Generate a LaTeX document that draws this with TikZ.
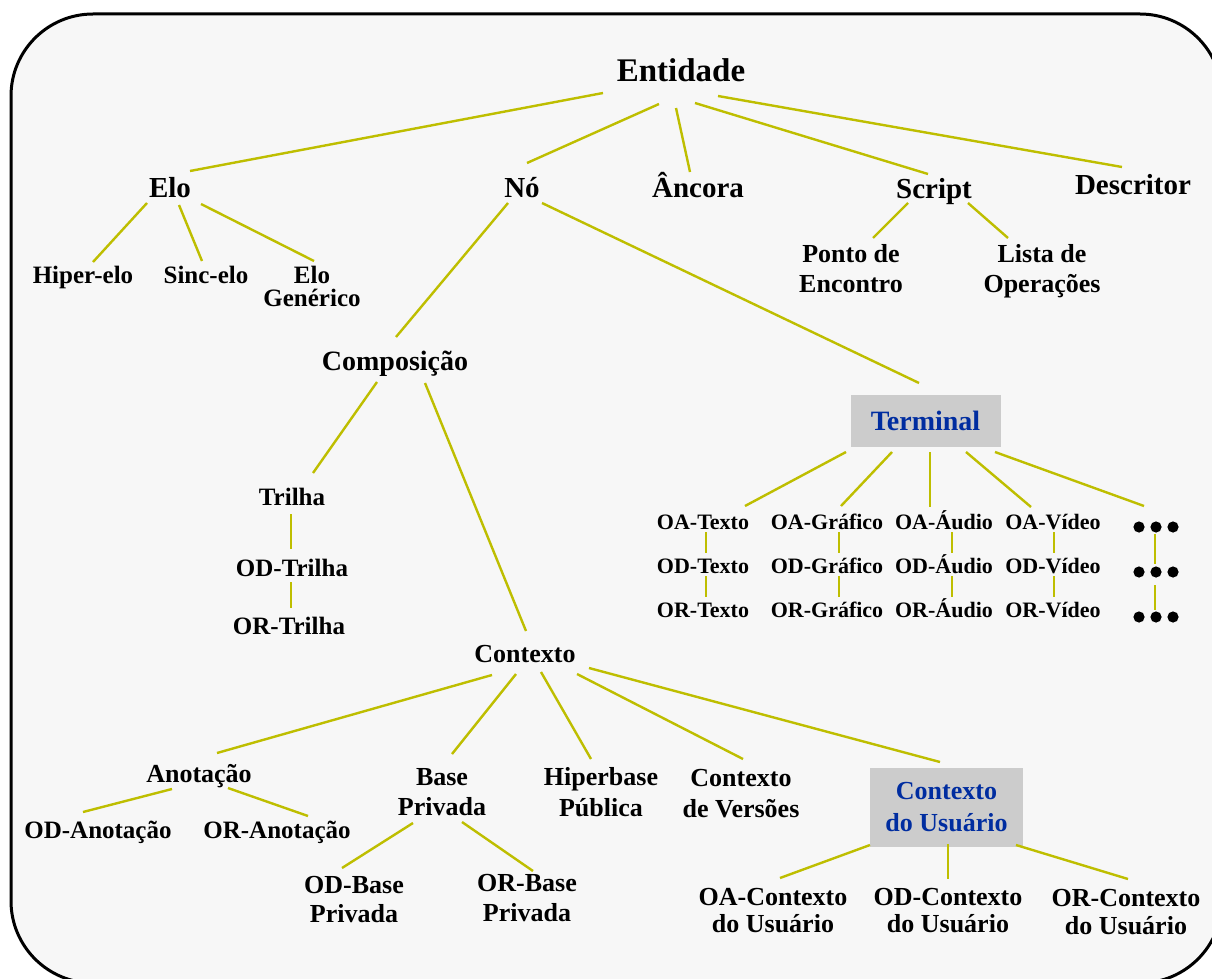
\documentclass[tikz,border=0pt]{standalone}
\usepackage{fontspec}
\setmainfont{Liberation Serif}
\definecolor{edgecol}{RGB}{190,190,0}
\definecolor{panelbg}{RGB}{247,247,247}
\definecolor{boxgray}{RGB}{204,204,204}
\definecolor{boxblue}{RGB}{0,45,160}
\tikzset{
  % text labels; the base anchor sits on the baseline of the last line
  t/.style 2 args={font=\bfseries\fontsize{#1}{#2}\selectfont, align=center, inner sep=0pt, anchor=base},
  hl/.style 2 args={font=\bfseries\fontsize{#1}{#2}\selectfont, align=center, inner sep=0pt,
     anchor=center, fill=boxgray, text=boxblue},
  ln/.style={draw=edgecol, line width=2.4pt},
  dotgroup/.style={inner sep=0pt, minimum width=46, minimum height=12}
}
\newcommand{\dotrow}[1]{%
  \foreach \dx in {-17,0,17} {\fill ([xshift=\dx]#1.center) circle (5.6);}}
\begin{document}
\begin{tikzpicture}[x=1pt,y=-1pt]
\useasboundingbox (0,0) rectangle (1212,979);
\clip (0,0) rectangle (1212,979);
\fill[white] (0,0) rectangle (1212,979);
% panel
\draw[line width=3pt, fill=panelbg, rounded corners=82] (11,14) rectangle (1222,983);

% top levels
\node[t={33}{36}] (ent) at (681,82) {Entidade};
\node[t={29}{32}] (elo) at (170,197) {Elo};
\node[t={29}{32}] (no) at (522,197) {Nó};
\node[t={29}{32}] (anc) at (698,197) {Âncora};
\node[t={29}{32}] (scr) at (934,198) {Script};
\node[t={29}{32}] (desc) at (1133,194) {Descritor};

% elo children
\node[t={25}{23}] (hip) at (83,283) {Hiper-elo};
\node[t={25}{23}] (sinc) at (206,283) {Sinc-elo};
\node[t={25}{23}] (elog) at (312,306) {Elo\\Genérico};

% script children
\node[t={26}{30}] (ponto) at (851,292) {Ponto de\\Encontro};
\node[t={26}{30}] (lista) at (1042,292) {Lista de\\Operações};

% node children
\node[t={28}{30}] (comp) at (395,370) {Composição};
\node[hl={28}{30}, minimum width=150, minimum height=52] (term) at (925.5,421) {Terminal};

% trilha chain
\node[t={25}{28}] (tril) at (292,505) {Trilha};
\node[t={25}{28}] (odtr) at (292,576) {OD-Trilha};
\node[t={25}{28}] (ortr) at (289,634) {OR-Trilha};

% terminal media rows
\node[t={22}{24}] (oat) at (703,529) {OA-Texto};
\node[t={22}{24}] (oag) at (827,529) {OA-Gráfico};
\node[t={22}{24}] (oaa) at (944,529) {OA-Áudio};
\node[t={22}{24}] (oav) at (1053,529) {OA-Vídeo};
\node[t={22}{24}] (odt) at (703,573) {OD-Texto};
\node[t={22}{24}] (odg) at (827,573) {OD-Gráfico};
\node[t={22}{24}] (oda) at (944,573) {OD-Áudio};
\node[t={22}{24}] (odv) at (1053,573) {OD-Vídeo};
\node[t={22}{24}] (ort) at (703,617) {OR-Texto};
\node[t={22}{24}] (org) at (827,617) {OR-Gráfico};
\node[t={22}{24}] (ora) at (944,617) {OR-Áudio};
\node[t={22}{24}] (orv) at (1053,617) {OR-Vídeo};
\node[dotgroup] (dA) at (1156,527) {};
\node[dotgroup] (dD) at (1156,572) {};
\node[dotgroup] (dR) at (1156,617) {};
\dotrow{dA}\dotrow{dD}\dotrow{dR}

% contexto and children
\node[t={26}{30}] (ctx) at (525,662) {Contexto};
\node[t={26}{30}] (anot) at (199,782) {Anotação};
\node[t={26}{30}] (base) at (442,815) {Base\\Privada};
\node[t={26}{31}] (hipb) at (601,816) {Hiperbase\\Pública};
\node[t={26}{31}] (cver) at (741,817) {Contexto\\de Versões};
\node[hl={26}{32}, minimum width=153, minimum height=79] (cusr) at (946.5,807.5) {Contexto\\do Usuário};

\node[t={25}{28}] (odan) at (98,838) {OD-Anotação};
\node[t={25}{28}] (oran) at (277,838) {OR-Anotação};
\node[t={26}{29}] (odbp) at (354,922) {OD-Base\\Privada};
\node[t={26}{30}] (orbp) at (527,921) {OR-Base\\Privada};
\node[t={26}{27}] (oacu) at (773,932) {OA-Contexto\\do Usuário};
\node[t={26}{27}] (odcu) at (948,932) {OD-Contexto\\do Usuário};
\node[t={26}{28}] (orcu) at (1126,934) {OR-Contexto\\do Usuário};

% connectors
\draw[ln] ([shift={(-78,11)}]ent.base) -- ([shift={(20,-26)}]elo.base);
\draw[ln] ([shift={(-22,22)}]ent.base) -- ([shift={(5,-34)}]no.base);
\draw[ln] ([shift={(-5,26)}]ent.base) -- ([shift={(-8,-25)}]anc.base);
\draw[ln] ([shift={(14,21)}]ent.base) -- ([shift={(-6,-24)}]scr.base);
\draw[ln] ([shift={(37,14)}]ent.base) -- ([shift={(-11,-27)}]desc.base);

\draw[ln] ([shift={(-23,6)}]elo.base) -- ([shift={(10,-21)}]hip.base);
\draw[ln] ([shift={(9,8)}]elo.base) -- ([shift={(-4,-22)}]sinc.base);
\draw[ln] ([shift={(31,7)}]elo.base) -- ([shift={(2,-45)}]elog.base);

\draw[ln] ([shift={(-26,5)}]scr.base) -- ([shift={(22,-54)}]ponto.base);
\draw[ln] ([shift={(34,5)}]scr.base) -- ([shift={(-34,-54)}]lista.base);

\draw[ln] ([shift={(-14,6)}]no.base) -- ([shift={(1,-33)}]comp.base);
\draw[ln] ([shift={(20,6)}]no.base) -- ([shift={(-6.5,-38)}]term.center);

\draw[ln] ([shift={(-18,12)}]comp.base) -- ([shift={(21,-32)}]tril.base);
\draw[ln] ([shift={(30,13)}]comp.base) -- ([shift={(1,-31)}]ctx.base);
\draw[ln] ([shift={(-1,9)}]tril.base) -- ([shift={(-1,-27)}]odtr.base);
\draw[ln] ([shift={(-1,6)}]odtr.base) -- ([shift={(2,-26)}]ortr.base);

\draw[ln] ([shift={(-79.5,31)}]term.center) -- ([shift={(42,-23)}]oat.base);
\draw[ln] ([shift={(-33.5,31)}]term.center) -- ([shift={(14,-23)}]oag.base);
\draw[ln] ([shift={(4.5,31)}]term.center) -- ([shift={(-14,-22)}]oaa.base);
\draw[ln] ([shift={(40.5,31)}]term.center) -- ([shift={(-22,-22)}]oav.base);
\draw[ln] ([shift={(69.5,31)}]term.center) -- ([shift={(-12,-21)}]dA.center);

\foreach \a/\b/\c/\dx in {oat/odt/ort/3, oag/odg/org/12, oaa/oda/ora/8, oav/odv/orv/1} {
  \draw[ln] ([shift={(\dx,3)}]\a.base) -- ([shift={(\dx,-20)}]\b.base);
  \draw[ln] ([shift={(\dx,3)}]\b.base) -- ([shift={(\dx,-20)}]\c.base);
}
\draw[ln] ([shift={(-1,7)}]dA.center) -- ([shift={(-1,-8)}]dD.center);
\draw[ln] ([shift={(-1,13)}]dD.center) -- ([shift={(-1,-7)}]dR.center);

\draw[ln] ([shift={(-33,13)}]ctx.base) -- ([shift={(18,-29)}]anot.base);
\draw[ln] ([shift={(-9,12)}]ctx.base) -- ([shift={(10,-61)}]base.base);
\draw[ln] ([shift={(16,10)}]ctx.base) -- ([shift={(-10,-57)}]hipb.base);
\draw[ln] ([shift={(52,12)}]ctx.base) -- ([shift={(2,-58)}]cver.base);
\draw[ln] ([shift={(64,6)}]ctx.base) -- ([shift={(-6.5,-45.5)}]cusr.center);

\draw[ln] ([shift={(-27,7)}]anot.base) -- ([shift={(-15,-26)}]odan.base);
\draw[ln] ([shift={(29,6)}]anot.base) -- ([shift={(31,-22)}]oran.base);
\draw[ln] ([shift={(-29,8)}]base.base) -- ([shift={(-12,-54)}]odbp.base);
\draw[ln] ([shift={(20,7)}]base.base) -- ([shift={(6,-50)}]orbp.base);

\draw[ln] ([shift={(-76.5,37.5)}]cusr.center) -- ([shift={(7,-54)}]oacu.base);
\draw[ln] ([shift={(1.5,36.5)}]cusr.center) -- ([shift={(0,-53)}]odcu.base);
\draw[ln] ([shift={(69.5,37.5)}]cusr.center) -- ([shift={(2,-55)}]orcu.base);
\end{tikzpicture}
\end{document}
